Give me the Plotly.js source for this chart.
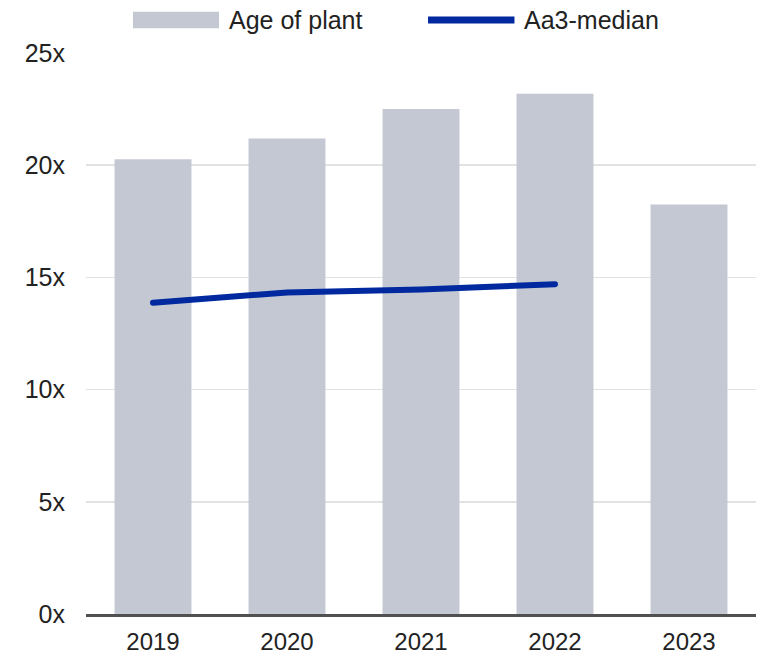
<!DOCTYPE html>
<html>
<head>
<meta charset="utf-8">
<script src="https://cdn.plot.ly/plotly-3.0.1.min.js"></script>
<style>html,body{margin:0;padding:0;background:#fff;}#chart{width:759px;height:656px;}
#chart .js-line{stroke-linecap:round;}</style>
</head>
<body>
<div id="chart"></div>
<script>
const years = ['2019', '2020', '2021', '2022', '2023'];
const ageOfPlant = [20.27, 21.19, 22.50, 23.18, 18.25];
const medianYears = ['2019', '2020', '2021', '2022'];
const aa3Median = [13.87, 14.33, 14.46, 14.70];
const yTickVals = [0, 5, 10, 15, 20, 25];
const yTickText = ['0x', '5x', '10x', '15x', '20x', '25x'];
const seriesNames = ['Age of plant', 'Aa3-median'];

const barColor = '#c4c8d3';
const lineColor = '#00299f';
const font = {family: 'Liberation Sans, Arial, sans-serif', size: 25, color: '#222222'};
const xFont = {family: 'Liberation Sans, Arial, sans-serif', size: 24, color: '#222222'};

const traces = [
  {type: 'bar', x: years, y: ageOfPlant, name: seriesNames[0], marker: {color: barColor}, hoverinfo: 'x+y'},
  {type: 'scatter', mode: 'lines', x: medianYears, y: aa3Median, name: seriesNames[1],
   line: {color: lineColor, width: 6}, hoverinfo: 'x+y'}
];

const layout = {
  width: 759, height: 656,
  margin: {l: 86, r: 3, t: 53, b: 42},
  paper_bgcolor: '#ffffff', plot_bgcolor: '#ffffff',
  font: font,
  showlegend: false,
  bargap: 0.426,
  xaxis: {
    type: 'category', showgrid: false, showline: true, linecolor: '#505050', linewidth: 2.5,
    ticks: '', ticklabelstandoff: 5, tickfont: xFont, fixedrange: true
  },
  yaxis: {
    range: [0, 25], tickvals: yTickVals, ticktext: yTickText, showgrid: true,
    gridcolor: '#e2e2e2', gridwidth: 1.5, zeroline: false, showline: false,
    ticks: '', ticklabelstandoff: 20, tickfont: font, fixedrange: true
  },
  shapes: [
    {type: 'rect', xref: 'paper', yref: 'paper', x0: 0.0701, x1: 0.1985, y0: 1.0440, y1: 1.0736,
     fillcolor: barColor, line: {width: 0}},
    {type: 'line', xref: 'paper', yref: 'paper', x0: 0.5105, x1: 0.6395, y0: 1.0588, y1: 1.0588,
     line: {color: lineColor, width: 7}}
  ],
  annotations: [
    {xref: 'paper', yref: 'paper', x: 0.2119, y: 1.0588, xanchor: 'left', yanchor: 'middle',
     text: seriesNames[0], showarrow: false, font: font, borderpad: 0},
    {xref: 'paper', yref: 'paper', x: 0.6522, y: 1.0588, xanchor: 'left', yanchor: 'middle',
     text: seriesNames[1], showarrow: false, font: font, borderpad: 0}
  ]
};

Plotly.newPlot('chart', traces, layout, {displayModeBar: false, staticPlot: true});
</script>
</body>
</html>
